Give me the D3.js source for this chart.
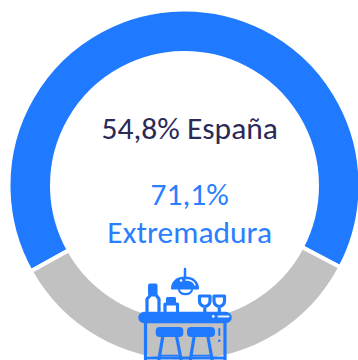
<!DOCTYPE html>
<html><head><meta charset="utf-8">
<script src="https://cdn.jsdelivr.net/npm/d3@7"></script>
<style>html,body{margin:0;padding:0;background:#fff}svg{display:block}text{font-family:Carlito,Calibri,Lato,sans-serif}</style>
</head><body><svg id="c" width="358" height="360"></svg>
<script>
const categories = ["Extremadura", "Resto"];
const seriesValues = [65.8, 34.2];
const labelLines = [
  {text:"54,8% España", color:"#2b2a56", y:139},
  {text:"71,1%", color:"#2a7fff", y:205},
  {text:"Extremadura", color:"#2a7fff", y:243}
];
const sliceColors = ["#1f7aff", "#c1c1c1"];
const cx=184.5,cy=185.5,outer=176,inner=132.5;
const svg=d3.select("#c");
const g=svg.append("g").attr("transform",`translate(${cx},${cy})`);
const a0=-119.2*Math.PI/180;
const pie=d3.pie().sort(null).startAngle(a0).endAngle(a0+2*Math.PI);
const arc=d3.arc().innerRadius(inner).outerRadius(outer);
const color=d3.scaleOrdinal(categories,sliceColors);
g.selectAll("path").data(pie(seriesValues)).join("path")
 .attr("d",arc).attr("fill",d=>color(categories[d.index])).attr("stroke","#fff").attr("stroke-width",4);
svg.selectAll("text.l").data(labelLines).join("text").attr("class","l")
 .attr("x",189.7).attr("y",d=>d.y).attr("text-anchor","middle").attr("font-size",31.5)
 .attr("fill",d=>d.color).text(d=>d.text);
// bar icon
const B="#1f7aff";
const ic=svg.append("g").attr("fill","none").attr("stroke",B).attr("stroke-width",3.2).attr("stroke-linejoin","round").attr("stroke-linecap","round");
// counter
ic.append("path").attr("d","M145.5 323V359M225 323V359M146 358H225");
ic.append("rect").attr("x",138.3).attr("y",311.7).attr("width",93.4).attr("height",11.6).attr("rx",5.8).attr("fill",B).attr("stroke","none");
ic.append("circle").attr("cx",213.3).attr("cy",316.4).attr("r",1.3).attr("fill","#fff").attr("stroke","none");
ic.append("path").attr("d","M218.5 316.5H228.5").attr("stroke","#e8f0ff").attr("stroke-width",2);
// bottle
ic.append("path").attr("d","M147 311V299L150.5 295H156L159 299V311");
ic.append("rect").attr("x",148).attr("y",283.5).attr("width",9.5).attr("height",12).attr("rx",2).attr("fill",B).attr("stroke","none");
// jar
ic.append("path").attr("d","M165 311V304H177.5V311");
ic.append("rect").attr("x",166).attr("y",297).attr("width",10).attr("height",7).attr("rx",1.5).attr("fill",B).attr("stroke","none");
// glasses
ic.append("path").attr("d","M199.5 296H210V301C210 304 207.5 306.5 204.8 306.5C202 306.5 199.5 304 199.5 301ZM204.8 306.5V312");
ic.append("path").attr("d","M214 296H224.5V301C224.5 304 222 306.5 219.3 306.5C216.5 306.5 214 304 214 301ZM219.3 306.5V312");
// lamp
ic.append("path").attr("d","M185 269V277").attr("stroke-width",2.5);
ic.append("path").attr("d","M171 288.5C171 281 177 276.5 185 276.5C193 276.5 199 281 199 288.5C199 289 198.5 289.5 198 289.5H172C171.5 289.5 171 289 171 288.5Z").attr("fill",B).attr("stroke","none");
ic.append("path").attr("d","M186 280C190 279.5 194 282 195 285").attr("stroke","#fff").attr("stroke-width",1.4);
ic.append("circle").attr("cx",181).attr("cy",280.5).attr("r",1.2).attr("fill","#fff").attr("stroke","none");
ic.append("path").attr("d","M179 290C180.5 295.5 190.5 295.5 192 290").attr("stroke-width",2.2);
// stools
ic.append("rect").attr("x",155.7).attr("y",327).attr("width",27.6).attr("height",10).attr("rx",4).attr("fill",B).attr("stroke","none");
ic.append("rect").attr("x",187).attr("y",327).attr("width",28).attr("height",10).attr("rx",4).attr("fill",B).attr("stroke","none");
ic.append("path").attr("d","M162.7 337L159 359M176.7 337L181 359M194 337L190.5 359M208 337L212 359");
ic.append("path").attr("d","M161 355.5H179M192 355.5H210").attr("stroke-width",1.5);
// mark on counter
ic.append("path").attr("d","M219.3 329V335").attr("stroke-width",2);
ic.append("circle").attr("cx",219.3).attr("cy",340.7).attr("r",1.3).attr("fill",B).attr("stroke","none");
</script></body></html>
